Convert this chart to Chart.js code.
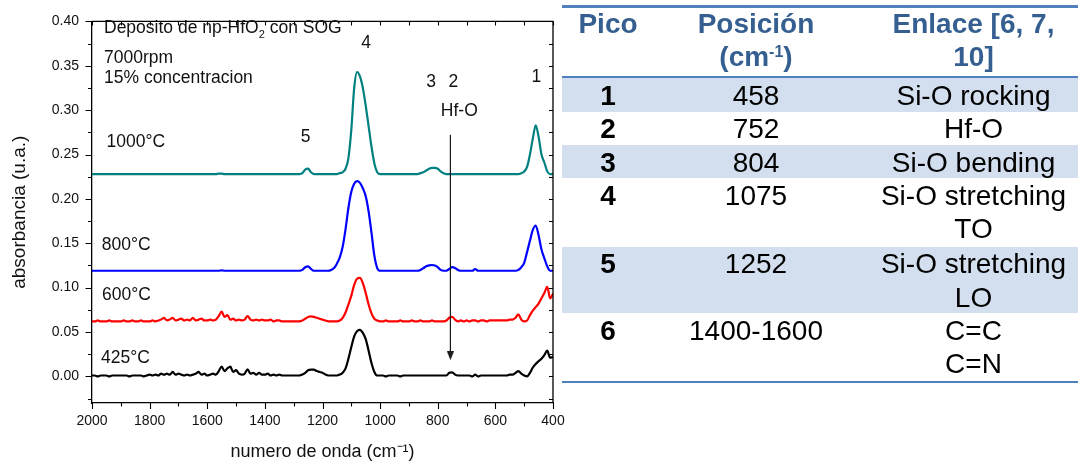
<!DOCTYPE html>
<html>
<head>
<meta charset="utf-8">
<script src="https://cdn.jsdelivr.net/npm/chart.js@4.4.1/dist/chart.umd.min.js"></script>
<style>
html,body{margin:0;padding:0;background:#fff;width:1079px;height:465px;overflow:hidden;}
body{position:relative;font-family:"Liberation Sans",Arial,Helvetica,sans-serif;}
#chart{position:absolute;left:0;top:0;}
.ann{position:absolute;font-size:17.5px;line-height:20px;color:#111;white-space:nowrap;}
.ctr{transform:translateX(-50%);}
.rule{position:absolute;left:562px;width:516px;background:#4F81BD;}
.shade{position:absolute;left:562px;width:516px;background:#D3DFEE;}
.cell{position:absolute;text-align:center;white-space:nowrap;font-size:28px;line-height:33.3px;color:#000;}
.hcell{position:absolute;text-align:center;white-space:nowrap;font-size:28px;line-height:32.7px;color:#365F91;font-weight:bold;}
</style>
</head>
<body>
<canvas id="chart" width="575" height="465"></canvas>

<div class="ann" style="left:104px;top:17px">Deposito de np-HfO<span style="font-size:11px;position:relative;top:4.5px">2</span> con SOG</div>
<div class="ann" style="left:104px;top:46.6px">7000rpm</div>
<div class="ann" style="left:104px;top:67.2px">15% concentracion</div>
<div class="ann" style="left:106.5px;top:130.6px">1000°C</div>
<div class="ann" style="left:101.7px;top:233.9px">800°C</div>
<div class="ann" style="left:102px;top:283.9px">600°C</div>
<div class="ann" style="left:101px;top:346.6px">425°C</div>
<div class="ann ctr" style="left:305.7px;top:125.6px">5</div>
<div class="ann ctr" style="left:366px;top:31.6px">4</div>
<div class="ann ctr" style="left:431px;top:70.6px">3</div>
<div class="ann ctr" style="left:453.3px;top:70.6px">2</div>
<div class="ann ctr" style="left:459.3px;top:99.9px">Hf-O</div>
<div class="ann ctr" style="left:536.3px;top:65.6px">1</div>

<script>
// ---------------- DATA ----------------
const wavenumbers = [
2000,1990,1980,1970,1960,1950,1940,1930,1920,1910,
1900,1890,1880,1870,1860,1850,1840,1830,1820,1810,
1800,1790,1780,1770,1760,1750,1740,1730,1720,1710,
1700,1690,1680,1670,1660,1650,1640,1630,1620,1610,
1600,1590,1580,1570,1560,1550,1540,1530,1520,1510,
1500,1490,1480,1470,1460,1450,1440,1430,1420,1410,
1400,1390,1380,1370,1360,1350,1340,1330,1320,1310,
1300,1290,1280,1270,1260,1250,1240,1230,1220,1210,
1200,1190,1180,1170,1160,1150,1140,1130,1120,1110,
1100,1090,1080,1070,1060,1050,1040,1030,1020,1010,
1000,990,980,970,960,950,940,930,920,910,
900,890,880,870,860,850,840,830,820,810,
800,790,780,770,760,750,740,730,720,710,
700,690,680,670,660,650,640,630,620,610,
600,590,580,570,560,550,540,530,520,510,
500,490,480,470,460,450,440,430,420,410,
400];

const abs1000C = [
0.228,0.228,0.228,0.228,0.228,0.228,0.228,0.228,0.228,0.228,
0.228,0.228,0.228,0.228,0.228,0.228,0.228,0.228,0.228,0.228,
0.228,0.228,0.228,0.228,0.228,0.228,0.228,0.228,0.228,0.228,
0.228,0.228,0.228,0.228,0.228,0.228,0.228,0.228,0.228,0.228,
0.228,0.228,0.228,0.228,0.2285,0.2285,0.228,0.228,0.228,0.228,
0.228,0.228,0.228,0.228,0.228,0.228,0.228,0.228,0.228,0.228,
0.228,0.228,0.228,0.228,0.228,0.228,0.228,0.228,0.228,0.228,
0.228,0.228,0.228,0.229,0.233,0.234,0.230,0.228,0.228,0.228,
0.228,0.228,0.228,0.228,0.228,0.228,0.229,0.230,0.234,0.246,
0.278,0.325,0.343,0.338,0.325,0.305,0.282,0.259,0.240,0.230,
0.228,0.228,0.228,0.228,0.228,0.228,0.228,0.228,0.228,0.228,
0.228,0.228,0.228,0.228,0.229,0.230,0.232,0.234,0.235,0.235,
0.234,0.231,0.229,0.228,0.228,0.228,0.228,0.228,0.228,0.228,
0.228,0.228,0.228,0.228,0.228,0.228,0.228,0.228,0.228,0.228,
0.228,0.228,0.228,0.228,0.228,0.228,0.228,0.228,0.228,0.229,
0.231,0.236,0.250,0.268,0.283,0.270,0.250,0.241,0.231,0.228,
0.228];

const abs800C = [
0.119,0.119,0.119,0.119,0.119,0.119,0.119,0.119,0.119,0.119,
0.119,0.119,0.119,0.119,0.119,0.119,0.119,0.119,0.119,0.119,
0.119,0.119,0.119,0.119,0.119,0.119,0.119,0.119,0.119,0.119,
0.119,0.119,0.119,0.119,0.119,0.119,0.119,0.119,0.119,0.119,
0.119,0.119,0.119,0.119,0.119,0.1195,0.119,0.119,0.119,0.119,
0.119,0.119,0.119,0.119,0.119,0.119,0.119,0.119,0.119,0.119,
0.119,0.119,0.119,0.119,0.119,0.119,0.119,0.119,0.119,0.119,
0.119,0.119,0.119,0.120,0.123,0.124,0.121,0.119,0.119,0.119,
0.119,0.119,0.119,0.120,0.122,0.127,0.134,0.146,0.166,0.190,
0.208,0.217,0.220,0.218,0.212,0.203,0.186,0.162,0.136,0.122,
0.119,0.119,0.119,0.119,0.119,0.119,0.119,0.119,0.119,0.119,
0.119,0.119,0.119,0.119,0.120,0.122,0.124,0.125,0.1255,0.125,
0.123,0.120,0.119,0.119,0.121,0.123,0.122,0.120,0.119,0.119,
0.119,0.119,0.119,0.121,0.119,0.119,0.119,0.119,0.119,0.119,
0.119,0.119,0.119,0.119,0.119,0.119,0.119,0.119,0.120,0.123,
0.128,0.140,0.153,0.165,0.170,0.159,0.143,0.133,0.124,0.119,
0.119];

const abs600C = [
0.062,0.062,0.063,0.062,0.062,0.062,0.063,0.062,0.062,0.062,
0.062,0.063,0.062,0.062,0.063,0.062,0.062,0.063,0.062,0.062,
0.062,0.063,0.062,0.063,0.064,0.066,0.063,0.064,0.066,0.063,
0.064,0.065,0.063,0.064,0.063,0.066,0.063,0.064,0.065,0.063,
0.063,0.064,0.063,0.064,0.068,0.073,0.067,0.069,0.064,0.065,
0.063,0.064,0.063,0.064,0.068,0.064,0.063,0.064,0.063,0.064,
0.063,0.063,0.064,0.062,0.063,0.063,0.062,0.062,0.062,0.062,
0.062,0.062,0.062,0.063,0.065,0.067,0.0675,0.067,0.066,0.065,
0.064,0.063,0.062,0.062,0.062,0.062,0.063,0.066,0.072,0.081,
0.091,0.103,0.110,0.111,0.105,0.094,0.081,0.071,0.065,0.063,
0.062,0.062,0.063,0.062,0.062,0.062,0.062,0.063,0.062,0.062,
0.062,0.063,0.062,0.062,0.063,0.062,0.062,0.062,0.063,0.062,
0.062,0.062,0.062,0.063,0.066,0.067,0.064,0.062,0.063,0.062,
0.063,0.062,0.063,0.063,0.062,0.063,0.063,0.062,0.063,0.063,
0.063,0.063,0.063,0.063,0.063,0.064,0.064,0.066,0.070,0.064,
0.062,0.063,0.069,0.074,0.078,0.082,0.088,0.094,0.101,0.088,
0.093];

const abs425C = [
0.001,0.001,0.000,0.001,0.001,0.001,0.000,0.001,0.001,0.001,
0.001,0.001,0.001,0.000,0.001,0.001,0.001,0.001,0.000,0.001,
0.002,0.001,0.002,0.001,0.003,0.002,0.003,0.002,0.005,0.002,
0.003,0.002,0.001,0.002,0.001,0.002,0.003,0.005,0.002,0.003,
0.001,0.002,0.003,0.002,0.006,0.011,0.006,0.009,0.011,0.005,
0.007,0.003,0.002,0.003,0.008,0.003,0.004,0.002,0.004,0.002,
0.002,0.003,0.001,0.002,0.001,0.002,0.001,0.001,0.001,0.001,
0.001,0.001,0.001,0.002,0.004,0.007,0.0075,0.0075,0.006,0.005,
0.004,0.002,0.001,0.001,0.001,0.001,0.002,0.004,0.009,0.020,
0.033,0.045,0.051,0.0525,0.049,0.042,0.029,0.015,0.005,0.001,
0.001,0.001,0.000,0.001,0.001,0.001,0.001,0.000,0.001,0.001,
0.001,0.001,0.001,0.001,0.001,0.001,0.001,0.001,0.001,0.001,
0.001,0.001,0.001,0.001,0.004,0.0045,0.002,0.001,0.001,0.001,
0.001,0.001,0.000,0.002,0.000,0.001,0.001,0.001,0.001,0.001,
0.001,0.001,0.001,0.001,0.001,0.002,0.002,0.004,0.006,0.003,
0.001,0.000,0.004,0.010,0.014,0.017,0.020,0.024,0.029,0.021,
0.022];

// Hf-O arrow (wavenumber, absorbance) : start and tip
const arrowX = [756, 756];
const arrowY = [0.272, 0.0232];

// tick labels / marks
const xTickValues = [2000,1800,1600,1400,1200,1000,800,600,400];
const xTickLabels = ['2000','1800','1600','1400','1200','1000','800','600','400'];
const xTickMarks = [2000,1900,1800,1700,1600,1500,1400,1300,1200,1100,1000,900,800,700,600,500,400];
const yTickValues = [0,0.05,0.10,0.15,0.20,0.25,0.30,0.35,0.40];
const yTickLabels = ['0.00','0.05','0.10','0.15','0.20','0.25','0.30','0.35','0.40'];
const yTickMarks = [-0.025,0,0.025,0.05,0.075,0.10,0.125,0.15,0.175,0.20,0.225,0.25,0.275,0.30,0.325,0.35,0.375,0.40];

// table
const tableHeaders = [['Pico'], ['Posición','(cm<span style="font-size:16px;position:relative;top:-9px">-1</span>)'], ['Enlace [6, 7,','10]']];
const picoNum = ['1','2','3','4','5','6'];
const picoPos = ['458','752','804','1075','1252','1400-1600'];
const picoEnlace = [['Si-O rocking'],['Hf-O'],['Si-O bending'],['Si-O stretching','TO'],['Si-O stretching','LO'],['C=C','C=N']];

// ---------------- CHART ----------------
const FONT = '"Liberation Sans", Arial, Helvetica, sans-serif';
Chart.defaults.font.family = FONT;

const arrowHead = document.createElement('canvas');
arrowHead.width = 7; arrowHead.height = 9;
(function(){ const c = arrowHead.getContext('2d'); c.fillStyle = '#1a1a1a'; c.beginPath(); c.moveTo(0,0); c.lineTo(7,0); c.lineTo(3.5,9); c.closePath(); c.fill(); })();

const frameTicks = {
  id: 'frameTicks',
  afterDraw(chart) {
    const {ctx, chartArea: a, scales: {x, y}} = chart;
    ctx.save();
    ctx.strokeStyle = '#000';
    ctx.lineWidth = 1.3;
    ctx.beginPath();
    ctx.moveTo(a.left, a.top); ctx.lineTo(a.right, a.top); ctx.lineTo(a.right, a.bottom);
    ctx.stroke();
    ctx.lineWidth = 1.1;
    ctx.beginPath();
    xTickMarks.forEach(v => {
      const p = Math.round(x.getPixelForValue(v)) + 0.5;
      const major = v % 200 === 0;
      ctx.moveTo(p, a.bottom); ctx.lineTo(p, a.bottom + (major ? 6 : 3.5));
      ctx.moveTo(p, a.top); ctx.lineTo(p, a.top + 4);
    });
    yTickMarks.forEach(v => {
      const p = Math.round(y.getPixelForValue(v)) + 0.5;
      const major = Math.abs(Math.round(v * 20) - v * 20) < 1e-6;
      ctx.moveTo(a.left, p); ctx.lineTo(a.left - (major ? 6.5 : 4), p);
      ctx.moveTo(a.right, p); ctx.lineTo(a.right - 4, p);
    });
    ctx.stroke();
    ctx.restore();
  }
};

function series(vals) { return wavenumbers.map((w, i) => ({x: w, y: vals[i]})); }

new Chart(document.getElementById('chart'), {
  type: 'line',
  data: {
    datasets: [
      {label: 'Hf-O', data: arrowX.map((w, i) => ({x: w, y: arrowY[i]})), borderColor: '#1a1a1a', borderWidth: 1,
       pointRadius: [0, 5], pointStyle: arrowHead, tension: 0, cubicInterpolationMode: 'default'},
      {label: '1000°C', data: series(abs1000C), borderColor: '#008080'},
      {label: '800°C', data: series(abs800C), borderColor: '#0000FF'},
      {label: '600°C', data: series(abs600C), borderColor: '#FF0000'},
      {label: '425°C', data: series(abs425C), borderColor: '#000000'}
    ]
  },
  options: {
    responsive: false,
    animation: false,
    devicePixelRatio: 1,
    layout: {padding: {left: 0, top: 15, right: 22, bottom: 0}},
    plugins: {legend: {display: false}, tooltip: {enabled: false}},
    elements: {
      point: {radius: 0, hoverRadius: 0},
      line: {borderWidth: 2.2, cubicInterpolationMode: 'monotone', borderCapStyle: 'round', borderJoinStyle: 'round'}
    },
    scales: {
      x: {
        type: 'linear', min: 400, max: 2000, reverse: true,
        afterBuildTicks: s => { s.ticks = xTickValues.map(v => ({value: v})); },
        afterFit: s => { s.height = 62; },
        grid: {display: false, drawTicks: false},
        border: {display: true, color: '#000', width: 1.3},
        ticks: {padding: 10, autoSkip: false, maxRotation: 0, color: '#111', font: {size: 14},
                callback: (v, i) => xTickLabels[i]},
        title: {display: true, text: 'numero de onda (cm⁻¹)', color: '#111', font: {size: 18}, padding: {top: 0, bottom: 2}}
      },
      y: {
        type: 'linear', min: -0.03, max: 0.40,
        afterBuildTicks: s => { s.ticks = yTickValues.map(v => ({value: v})); },
        afterFit: s => { s.width = 92; },
        grid: {display: false, drawTicks: false},
        border: {display: true, color: '#000', width: 1.3},
        ticks: {padding: 13, color: '#111', font: {size: 14}, callback: (v, i) => yTickLabels[i]},
        title: {display: true, text: 'absorbancia (u.a.)', color: '#111', font: {size: 19}, padding: {top: 8, bottom: 0}}
      }
    }
  },
  plugins: [frameTicks]
});

// ---------------- TABLE ----------------
function add(cls, css, html) {
  const d = document.createElement('div');
  d.className = cls;
  d.style.cssText = css;
  d.innerHTML = html;
  document.body.appendChild(d);
  return d;
}
const colCenter = [608, 756, 973.5];
const colW = [130, 230, 280];
const rowTop = [78, 111.7, 145, 178.3, 246.7, 313.3, 380.5];

// shaded bands (odd rows)
[0, 2, 4].forEach(r => add('shade', `top:${rowTop[r]}px;height:${rowTop[r+1]-rowTop[r]}px`, ''));
// rules
add('rule', 'top:5px;height:2.5px', '');
add('rule', 'top:75.5px;height:2.5px', '');
add('rule', 'top:380.5px;height:2.5px', '');
// header
tableHeaders.forEach((lines, c) => {
  add('hcell', `left:${colCenter[c]-colW[c]/2}px;width:${colW[c]}px;top:8px`, lines.join('<br>'));
});
// body
picoNum.forEach((n, r) => {
  const t = rowTop[r] + 0.6;
  add('cell', `left:${colCenter[0]-colW[0]/2}px;width:${colW[0]}px;top:${t}px;font-weight:bold`, n);
  add('cell', `left:${colCenter[1]-colW[1]/2}px;width:${colW[1]}px;top:${t}px`, picoPos[r]);
  add('cell', `left:${colCenter[2]-colW[2]/2}px;width:${colW[2]}px;top:${t}px`, picoEnlace[r].join('<br>'));
});
</script>
</body>
</html>
